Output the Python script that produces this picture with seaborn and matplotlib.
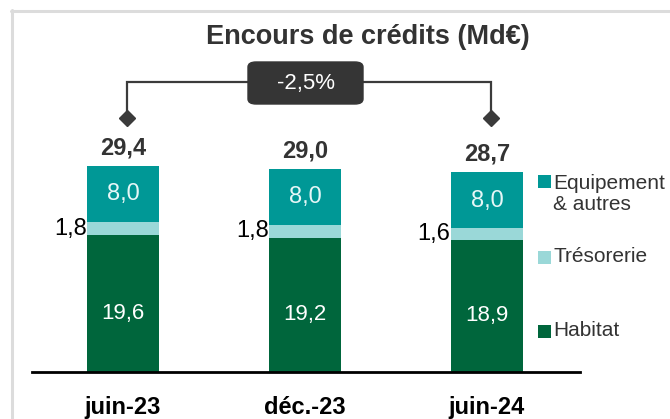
import matplotlib
matplotlib.use("Agg")
import matplotlib.pyplot as plt
import seaborn as sns
from matplotlib.patches import Rectangle, FancyBboxPatch
from matplotlib.lines import Line2D

# ---- data ----
periods = ["juin-23", "déc.-23", "juin-24"]
habitat = [19.6, 19.2, 18.9]
tresorerie = [1.8, 1.8, 1.6]
equipement = [8.0, 8.0, 8.0]
totals = [29.4, 29.0, 28.7]
legend_labels = ["Equipement\n& autres", "Trésorerie", "Habitat"]
title = "Encours de crédits (Md€)"
variation = "-2,5%"


def fr(v):
    return f"{v:.1f}".replace(".", ",")


sns.set_theme(style="white")
plt.rcParams["font.family"] = ["Liberation Sans", "DejaVu Sans"]

W, H = 670, 419
fig = plt.figure(figsize=(6.7, 4.19), dpi=100)
fig.patch.set_facecolor("white")


def fx(px):
    return px / W


def fy(py):
    return 1 - py / H


ax = fig.add_axes([fx(32), fy(372), fx(580) - fx(32), fy(120) - fy(372)])

c_hab = "#00663C"
c_tre = "#9AD8D8"
c_eq = "#009896"
c_txt = "#333333"

cum_tre = [h + t for h, t in zip(habitat, tresorerie)]
cum_eq = [c + e for c, e in zip(cum_tre, equipement)]

common = dict(width=0.4, saturation=1, errorbar=None, linewidth=0, ax=ax)
sns.barplot(x=periods, y=cum_eq, color=c_eq, **common)
sns.barplot(x=periods, y=cum_tre, color=c_tre, **common)
sns.barplot(x=periods, y=habitat, color=c_hab, **common)

ax.set_xlim(-0.5, 2.511)
ax.set_ylim(0, 36)
ax.set_yticks([])
ax.set_ylabel("")
ax.set_xlabel("")
for s in ["top", "right", "left"]:
    ax.spines[s].set_visible(False)
ax.spines["bottom"].set_color("black")
ax.spines["bottom"].set_linewidth(2)
ax.tick_params(axis="x", length=0, pad=17)
ax.set_xticks(range(len(periods)))
ax.set_xticklabels(periods, fontsize=17, fontweight="bold", color="black")

for i in range(len(periods)):
    # total
    ax.annotate(fr(totals[i]), (i, cum_eq[i]), xytext=(0, 5), textcoords="offset points",
                ha="center", va="bottom", fontsize=17, fontweight="bold", color=c_txt,
                annotation_clip=False)
    # equipement
    ax.text(i, cum_tre[i] + equipement[i] / 2, fr(equipement[i]), ha="center", va="center",
            fontsize=17, color="#E6F7F7")
    # tresorerie
    ax.text(i - 0.2, habitat[i] + tresorerie[i] / 2, fr(tresorerie[i]), ha="right", va="center",
            fontsize=17, color="black")
    # habitat
    ax.text(i, habitat[i] * 0.43, fr(habitat[i]), ha="center", va="center",
            fontsize=16, color="white")

# bracket
yb, yd = 41.4, 36.3
x0, x1 = 0.022, 2.022
ax.plot([x0, x0, x1, x1], [yd, yb, yb, yd], color="#3b3b3b", lw=1.6, clip_on=False,
        solid_joinstyle="miter")
ax.plot([x0, x1], [yd, yd], linestyle="none", marker="D", ms=8, color="#3b3b3b",
        clip_on=False)

box = FancyBboxPatch((fx(248), fy(104)), fx(363) - fx(248), fy(62) - fy(104),
                     boxstyle="round,pad=0,rounding_size=0.012", transform=fig.transFigure,
                     facecolor="#353535", edgecolor="#353535", zorder=5)
fig.add_artist(box)
fig.text(fx(305.5), fy(83.5), variation, ha="center", va="center", fontsize=16,
         color="white", zorder=6)

# title
fig.text(fx(368), fy(37), title, ha="center", va="center", fontsize=19.5,
         fontweight="bold", color=c_txt)

# legend
leg_colors = [c_eq, c_tre, c_hab]
square_y = [182, 257, 331]
text_y = [194, 256, 330]
for lab, col, sy, ty in zip(legend_labels, leg_colors, square_y, text_y):
    fig.add_artist(Rectangle((fx(538), fy(sy + 6.5)), fx(13), 13 / H,
                             transform=fig.transFigure, facecolor=col, edgecolor="none"))
    fig.text(fx(553), fy(ty), lab, ha="left", va="center",
             fontsize=15, color=c_txt, linespacing=1.1)

# frame
fig.add_artist(Line2D([fx(11.5), fx(11.5)], [fy(10), 0], transform=fig.transFigure,
                      color="#dcdcdc", lw=2.2))
fig.add_artist(Line2D([fx(10.5), 1], [fy(11), fy(11)], transform=fig.transFigure,
                      color="#dcdcdc", lw=2.2))

fig.savefig("out.png", dpi=100)
